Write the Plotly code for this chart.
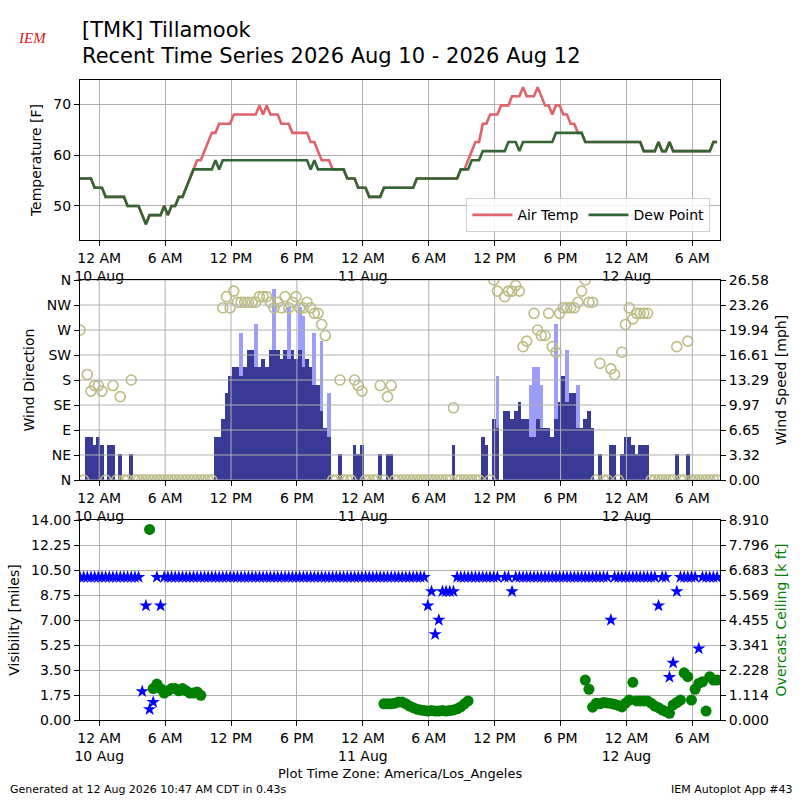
import pandas as pd
import plotly.graph_objects as go

N_ = None
# ---------------- data (one value per 20-minute observation) ----------------
start_time = "2026-08-09 22:15"
x_end = "2026-08-12 08:31"

tmpf = [
    55.4, 55.4, 55.4, 55.4, 53.6, 53.6, 53.6, 51.8, 51.8, 51.8,
    51.8, 51.8, 51.8, 50, 50, 50, 50, 48.2, 46.4, 48.2,
    48.2, 48.2, 48.2, 50, 48.2, 50, 50, 51.8, 51.8, 53.6,
    55.4, 57.2, 59, 59, 60.8, 62.6, 64.4, 64.4, 66.2, 66.2,
    66.2, 66.2, 68, 68, 68, 68, 68, 68, 68, 69.8,
    68, 69.8, 68, 68, 68, 66.2, 66.2, 66.2, 64.4, 64.4,
    64.4, 64.4, 64.4, 62.6, 62.6, 60.8, 59, 59, 59, 57.2,
    57.2, 57.2, 57.2, 55.4, 55.4, 55.4, 53.6, 53.6, 53.6, 51.8,
    51.8, 51.8, 51.8, 53.6, 53.6, 53.6, 53.6, 53.6, 53.6, 53.6,
    53.6, 53.6, 55.4, 55.4, 55.4, 55.4, 55.4, 55.4, 55.4, 55.4,
    55.4, 55.4, 55.4, 55.4, 57.2, 57.2, 59, 60.8, 62.6, 62.6,
    66.2, 66.2, 68, 68, 68, 69.8, 69.8, 69.8, 71.6, 71.6,
    71.6, 73.4, 71.6, 71.6, 71.6, 73.4, 71.6, 69.8, 69.8, 68,
    69.8, 69.8, 68, 68, 66.2, 66.2, 64.4, 64.4, 62.6, 62.6,
    62.6, 62.6, 62.6, 62.6, 62.6, 62.6, 62.6, 62.6, 62.6, 62.6,
    62.6, 62.6, 62.6, 62.6, 60.8, 60.8, 60.8, 60.8, 62.6, 60.8,
    60.8, 62.6, 60.8, 60.8, 60.8, 60.8, 60.8, 60.8, 60.8, 60.8,
    60.8, 60.8, 60.8, 62.6, 62.6,
]

dwpf = [
    55.4, 55.4, 55.4, 55.4, 53.6, 53.6, 53.6, 51.8, 51.8, 51.8,
    51.8, 51.8, 51.8, 50, 50, 50, 50, 48.2, 46.4, 48.2,
    48.2, 48.2, 48.2, 50, 48.2, 50, 50, 51.8, 51.8, 53.6,
    55.4, 57.2, 57.2, 57.2, 57.2, 57.2, 57.2, 59, 57.2, 59,
    59, 59, 59, 59, 59, 59, 59, 59, 59, 59,
    59, 59, 59, 59, 59, 59, 59, 59, 59, 59,
    59, 59, 59, 57.2, 59, 57.2, 57.2, 57.2, 57.2, 57.2,
    57.2, 57.2, 57.2, 55.4, 55.4, 55.4, 53.6, 53.6, 53.6, 51.8,
    51.8, 51.8, 51.8, 53.6, 53.6, 53.6, 53.6, 53.6, 53.6, 53.6,
    53.6, 53.6, 55.4, 55.4, 55.4, 55.4, 55.4, 55.4, 55.4, 55.4,
    55.4, 55.4, 55.4, 55.4, 57.2, 57.2, 57.2, 59, 59, 59,
    60.8, 60.8, 60.8, 60.8, 60.8, 60.8, 60.8, 62.6, 62.6, 62.6,
    60.8, 62.6, 62.6, 62.6, 62.6, 62.6, 62.6, 62.6, 62.6, 62.6,
    64.4, 64.4, 64.4, 64.4, 64.4, 64.4, 64.4, 64.4, 62.6, 62.6,
    62.6, 62.6, 62.6, 62.6, 62.6, 62.6, 62.6, 62.6, 62.6, 62.6,
    62.6, 62.6, 62.6, 62.6, 60.8, 60.8, 60.8, 60.8, 62.6, 60.8,
    60.8, 62.6, 60.8, 60.8, 60.8, 60.8, 60.8, 60.8, 60.8, 60.8,
    60.8, 60.8, 60.8, 62.6, 62.6,
]

wind_mph = [
    0, 0, 5.75, 5.75, 4.6, 5.75, 4.6, 0, 4.6, 4.6,
    0, 3.45, 0, 0, 3.45, 0, 0, 0, 0, 0,
    0, 0, 0, 0, 0, 0, 0, 0, 0, 0,
    0, 0, 0, 0, 0, 0, 0, 5.75, 5.75, 8.06,
    11.51, 13.81, 14.96, 14.96, 13.81, 14.96, 17.26, 17.26, 14.96, 14.96,
    16.11, 14.96, 17.26, 17.26, 17.26, 16.11, 17.26, 16.11, 17.26, 16.11,
    17.26, 14.96, 16.11, 14.96, 12.66, 12.66, 9.21, 6.9, 5.75, 0,
    0, 3.45, 0, 0, 0, 4.6, 3.45, 4.6, 0, 0,
    0, 0, 3.45, 0, 3.45, 3.45, 0, 0, 0, 0,
    0, 0, 0, 0, 0, 0, 0, 0, 0, 0,
    0, 0, 4.6, 0, 0, 0, 0, 0, 0, 0,
    5.75, 4.6, 0, 8.06, 6.9, N_, 9.21, 9.21, 8.06, 9.21,
    10.36, 8.06, 8.06, 5.75, 5.75, 8.06, 6.9, 6.9, 6.9, 5.75,
    8.06, 10.36, 13.81, 10.36, 11.51, 11.51, 6.9, 6.9, 8.06, 9.21,
    6.9, 0, 3.45, 0, 0, 4.6, 4.6, 0, 3.45, 5.75,
    5.75, 4.6, 3.45, 4.6, 4.6, 4.6, 0, 0, 0, 0,
    0, 0, 0, 3.45, 0, 0, 3.45, 0, 0, 0,
    0, 0, 0, 0, 0,
]

gust_mph = [
    N_, N_, N_, N_, N_, N_, N_, N_, N_, N_,
    N_, N_, N_, N_, N_, N_, N_, N_, N_, N_,
    N_, N_, N_, N_, N_, N_, N_, N_, N_, N_,
    N_, N_, N_, N_, N_, N_, N_, N_, N_, N_,
    N_, N_, N_, N_, 19.56, N_, N_, N_, 20.71, N_,
    N_, N_, N_, 25.32, N_, N_, N_, 23.02, N_, N_,
    23.02, 21.86, N_, N_, 19.56, N_, 18.41, N_, 11.51, N_,
    N_, N_, N_, N_, N_, N_, N_, N_, N_, N_,
    N_, N_, N_, N_, N_, N_, N_, N_, N_, N_,
    N_, N_, N_, N_, N_, N_, N_, N_, N_, N_,
    N_, N_, N_, N_, N_, N_, N_, N_, N_, N_,
    N_, N_, N_, N_, 13.81, N_, N_, N_, N_, N_,
    N_, N_, N_, 12.66, 14.96, 14.96, 12.66, N_, N_, N_,
    20.71, N_, N_, 17.26, N_, N_, 12.66, N_, N_, N_,
    N_, N_, N_, N_, N_, N_, N_, N_, N_, N_,
    N_, N_, N_, N_, N_, N_, N_, N_, N_, N_,
    N_, N_, N_, N_, N_, N_, N_, N_, N_, N_,
    N_, N_, N_, N_, N_,
]

wind_dir = [
    270, 0, 190, 160, 170, 170, 160, 0, N_, 170,
    0, 150, 0, 0, 180, 0, 0, 0, 0, 0,
    0, 0, 0, 0, 0, 0, 0, 0, 0, 0,
    0, 0, 0, 0, 0, 0, 0, N_, N_, 310,
    330, 310, 340, 320, 320, 320, 320, 320, 320, 330,
    330, 330, 320, 310, 320, 310, 330, 310, 320, 330,
    310, 310, 320, 310, 300, 300, 280, 260, N_, 0,
    0, 180, 0, 0, 0, 180, 170, 160, 0, 0,
    0, 0, 170, 0, 150, 170, 0, 0, 0, 0,
    0, 0, 0, 0, 0, 0, 0, 0, 0, 0,
    0, 0, 130, 0, 0, 0, 0, 0, 0, 0,
    N_, N_, 0, 360, 340, N_, 330, 340, 340, 350,
    340, 240, 250, N_, 300, 270, 260, 260, 300, 240,
    230, 300, 310, 310, 310, 310, 320, 340, 360, 320,
    320, 0, 210, 0, 0, 200, 190, 0, 230, 280,
    310, 290, 300, 300, 300, 300, 0, 0, 0, 0,
    0, 0, 0, 240, 0, 0, 250, 0, 0, 0,
    0, 0, 0, 0, 0,
]

visibility_mi = [
    10, 10, 10, 10, 10, 10, 10, 10, 10, 10,
    10, 10, 10, 10, 10, 10, 10, 2, 8, 0.75,
    1.25, 10, 8, 10, 10, 10, 10, 10, 10, 10,
    10, 10, 10, 10, 10, 10, 10, 10, 10, 10,
    10, 10, 10, 10, 10, 10, 10, 10, 10, 10,
    10, 10, 10, 10, 10, 10, 10, 10, 10, 10,
    10, 10, 10, 10, 10, 10, 10, 10, 10, 10,
    10, 10, 10, 10, 10, 10, 10, 10, 10, 10,
    10, 10, 10, 10, 10, 10, 10, 10, 10, 10,
    10, 10, 10, 10, 10, 8, 9, 6, 7, 9,
    9, 9, 9, 10, 10, 10, 10, 10, 10, 10,
    10, 10, 10, 10, 10, N_, 10, 10, 9, 10,
    10, 10, 10, 10, 10, 10, 10, 10, 10, 10,
    10, 10, 10, 10, 10, 10, 10, 10, 10, 10,
    10, 10, 10, 10, 10, 7, 10, 10, 10, 10,
    10, 10, 10, 10, 10, 10, 10, 10, 8, 10,
    10, 3, 4, 9, 10, 10, 10, 10, 10, 5,
    10, 10, 10, 10, 10,
]

ceiling_kft = [
    N_, N_, N_, N_, N_, N_, N_, N_, N_, N_,
    N_, N_, N_, N_, N_, N_, N_, N_, N_, 8.49,
    1.4, 1.6, 1.4, 1.2, 1.3, 1.4, 1.4, 1.3, 1.4, 1.3,
    1.2, 1.2, 1.25, 1.1, N_, N_, N_, N_, N_, N_,
    N_, N_, N_, N_, N_, N_, N_, N_, N_, N_,
    N_, N_, N_, N_, N_, N_, N_, N_, N_, N_,
    N_, N_, N_, N_, N_, N_, N_, N_, N_, N_,
    N_, N_, N_, N_, N_, N_, N_, N_, N_, N_,
    N_, N_, N_, 0.72, 0.72, 0.72, 0.75, 0.8, 0.8, 0.72,
    0.62, 0.55, 0.48, 0.45, 0.42, 0.4, 0.42, 0.4, 0.4, 0.42,
    0.4, 0.42, 0.45, 0.5, 0.58, 0.72, 0.85, N_, N_, N_,
    N_, N_, N_, N_, N_, N_, N_, N_, N_, N_,
    N_, N_, N_, N_, N_, N_, N_, N_, N_, N_,
    N_, N_, N_, N_, N_, N_, N_, N_, 1.78, 1.37,
    0.57, 0.75, 0.72, 0.78, 0.76, 0.74, 0.7, 0.65, 0.58, 0.75,
    0.89, 1.68, 0.85, 0.85, 0.85, 0.85, 0.75, 0.62, 0.55, 0.45,
    0.38, 0.3, 0.67, 0.78, 0.89, 2.1, 1.93, 0.89, 1.37, 1.63,
    1.7, 0.4, 1.93, 1.78, 1.78,
]

for arr in (dwpf, wind_mph, gust_mph, wind_dir, visibility_mi, ceiling_kft):
    assert len(arr) == len(tmpf), len(arr)

tick_times = ["2026-08-10 00:00", "2026-08-10 06:00", "2026-08-10 12:00", "2026-08-10 18:00",
              "2026-08-11 00:00", "2026-08-11 06:00", "2026-08-11 12:00", "2026-08-11 18:00",
              "2026-08-12 00:00", "2026-08-12 06:00"]
tick_labels = ["12 AM<br>10 Aug", "6 AM", "12 PM", "6 PM", "12 AM<br>11 Aug", "6 AM",
               "12 PM", "6 PM", "12 AM<br>12 Aug", "6 AM"]
temp_ticks = [50, 60, 70]
dir_ticks = [0, 45, 90, 135, 180, 225, 270, 315, 360]
dir_labels = ["N", "NE", "E", "SE", "S", "SW", "W", "NW", "N"]
speed_ticks = [0, 3.3225, 6.645, 9.9675, 13.29, 16.6125, 19.935, 23.2575, 26.58]
speed_labels = ["0.00", "3.32", "6.65", "9.97", "13.29", "16.61", "19.94", "23.26", "26.58"]
vis_ticks = [0, 1.75, 3.5, 5.25, 7, 8.75, 10.5, 12.25, 14]
vis_labels = ["0.00", "1.75", "3.50", "5.25", "7.00", "8.75", "10.50", "12.25", "14.00"]
ceil_ticks = [0, 1.11375, 2.2275, 3.34125, 4.455, 5.56875, 6.6825, 7.79625, 8.91]
ceil_labels = ["0.000", "1.114", "2.228", "3.341", "4.455", "5.569", "6.683", "7.796", "8.910"]

# ---------------- figure ----------------
times = pd.date_range(start_time, periods=len(tmpf), freq="20min")
bar_ms = 20 * 60 * 1000
FONT = "DejaVu Sans"
GRID = "#b0b0b0"

fig = go.Figure()
fig.add_trace(go.Scatter(x=times, y=tmpf, mode="lines", name="Air Temp",
                         line=dict(color="#e0626a", width=2.6), xaxis="x", yaxis="y"))
fig.add_trace(go.Scatter(x=times, y=dwpf, mode="lines", name="Dew Point",
                         line=dict(color="#336633", width=2.6), xaxis="x", yaxis="y"))
fig.add_trace(go.Bar(x=times, y=gust_mph, width=bar_ms, marker=dict(color="#9d9dfa", line=dict(width=0)),
                     opacity=1, showlegend=False, xaxis="x2", yaxis="y2"))
fig.add_trace(go.Bar(x=times, y=wind_mph, width=bar_ms, marker=dict(color="#393996", line=dict(width=0)),
                     opacity=1, showlegend=False, xaxis="x2", yaxis="y2"))
fig.add_trace(go.Scatter(x=times, y=wind_dir, mode="markers", showlegend=False,
                         marker=dict(symbol="circle-open", size=10, color="#bcbd84", line=dict(width=1.6)),
                         xaxis="x2", yaxis="y3"))
fig.add_trace(go.Scatter(x=times, y=visibility_mi, mode="markers", showlegend=False,
                         marker=dict(symbol="star", size=10, color="#0000ff", line=dict(width=0)),
                         xaxis="x3", yaxis="y4"))
fig.add_trace(go.Scatter(x=times, y=ceiling_kft, mode="markers", showlegend=False,
                         marker=dict(symbol="circle", size=11, color="#008000", line=dict(width=0)),
                         xaxis="x3", yaxis="y5"))

xcommon = dict(range=[start_time, x_end], tickvals=tick_times, ticktext=tick_labels,
               gridcolor=GRID, gridwidth=1, showline=True, linecolor="black", linewidth=1,
               mirror=True, ticks="outside", ticklen=5, tickcolor="black",
               tickfont=dict(size=14, color="black"), zeroline=False)
ycommon = dict(gridcolor=GRID, gridwidth=1, linecolor="black", linewidth=1,
               ticks="outside", ticklen=5, tickcolor="black", tickfont=dict(size=14, color="black"),
               zeroline=False)

fig.update_layout(
    width=800, height=800, margin=dict(l=80, r=80, t=80, b=80),
    paper_bgcolor="white", plot_bgcolor="white",
    font=dict(family=FONT, size=14, color="black"),
    barmode="overlay", bargap=0,
    xaxis=dict(**xcommon, anchor="y", showgrid=True),
    xaxis2=dict(**xcommon, anchor="y2", showgrid=False),
    xaxis3=dict(**xcommon, anchor="y4", showgrid=True),
    yaxis=dict(**ycommon, domain=[0.75, 1.0], range=[43.3, 74.8], tickvals=temp_ticks,
               showline=True, mirror=True, showgrid=True,
               title=dict(text="Temperature [F]", font=dict(size=14), standoff=8)),
    yaxis2=dict(**ycommon, domain=[0.375, 0.6875], anchor="x2", side="right", range=[0, 26.58],
                tickvals=speed_ticks, ticktext=speed_labels, showline=True, mirror=True, showgrid=False,
                title=dict(text="Wind Speed [mph]", font=dict(size=14), standoff=8)),
    yaxis3=dict(**ycommon, overlaying="y2", anchor="x2",
                side="left", range=[0, 360], tickvals=dir_ticks, ticktext=dir_labels,
                showline=False, showgrid=False,
                title=dict(text="Wind Direction", font=dict(size=14), standoff=8)),
    yaxis4=dict(**ycommon, domain=[0.0, 0.3125], anchor="x3", range=[0, 14], tickvals=vis_ticks,
                ticktext=vis_labels, showline=True, mirror=True, showgrid=True,
                title=dict(text="Visibility [miles]", font=dict(size=14), standoff=8)),
    yaxis5=dict(**ycommon, overlaying="y4", anchor="x3",
                side="right", range=[0, 8.91], tickvals=ceil_ticks, ticktext=ceil_labels,
                showline=False, showgrid=False,
                title=dict(text="Overcast Ceiling [k ft]", font=dict(size=14, color="#008000"), standoff=8)),
    legend=dict(orientation="h", x=0.985, xanchor="right", y=0.762, yanchor="bottom",
                bgcolor="rgba(255,255,255,0.85)", bordercolor="#d0d0d0", borderwidth=1,
                font=dict(size=14), itemwidth=40),
)

# grid of the wind panel drawn above the bars (as in the reference)
shapes = []
for d in dir_ticks:
    shapes.append(dict(type="line", xref="x2 domain", yref="y3", x0=0, x1=1, y0=d, y1=d,
                       line=dict(color=GRID, width=1), layer="above"))
for t in tick_times:
    shapes.append(dict(type="line", xref="x2", yref="y3 domain", x0=t, x1=t, y0=0, y1=1,
                       line=dict(color=GRID, width=1), layer="above"))
fig.update_layout(shapes=shapes)

ann = [
    dict(text="[TMK] Tillamook", x=0, y=1.078, xanchor="left", yanchor="middle",
         font=dict(size=21)),
    dict(text="Recent Time Series 2026 Aug 10 - 2026 Aug 12", x=0, y=1.0375, xanchor="left",
         yanchor="middle", font=dict(size=21)),
    dict(text="<i>IEM</i>", x=-0.075, y=1.065, xanchor="center", yanchor="middle",
         font=dict(size=15, color="#d42020", family="Liberation Serif")),
    dict(text="Plot Time Zone: America/Los_Angeles", x=0.5, y=-0.084, xanchor="center",
         yanchor="middle", font=dict(size=13)),
    dict(text="Generated at 12 Aug 2026 10:47 AM CDT in 0.43s", x=-0.1125, y=-0.109,
         xanchor="left", yanchor="middle", font=dict(size=11)),
    dict(text="IEM Autoplot App #43", x=1.117, y=-0.109, xanchor="right", yanchor="middle",
         font=dict(size=11)),
]
for a in ann:
    a.update(xref="paper", yref="paper", showarrow=False)
fig.update_layout(annotations=ann)

fig.write_html("out.html", config={"displayModeBar": False},
               post_script="document.body.style.margin='0';document.body.style.overflow='hidden';")
